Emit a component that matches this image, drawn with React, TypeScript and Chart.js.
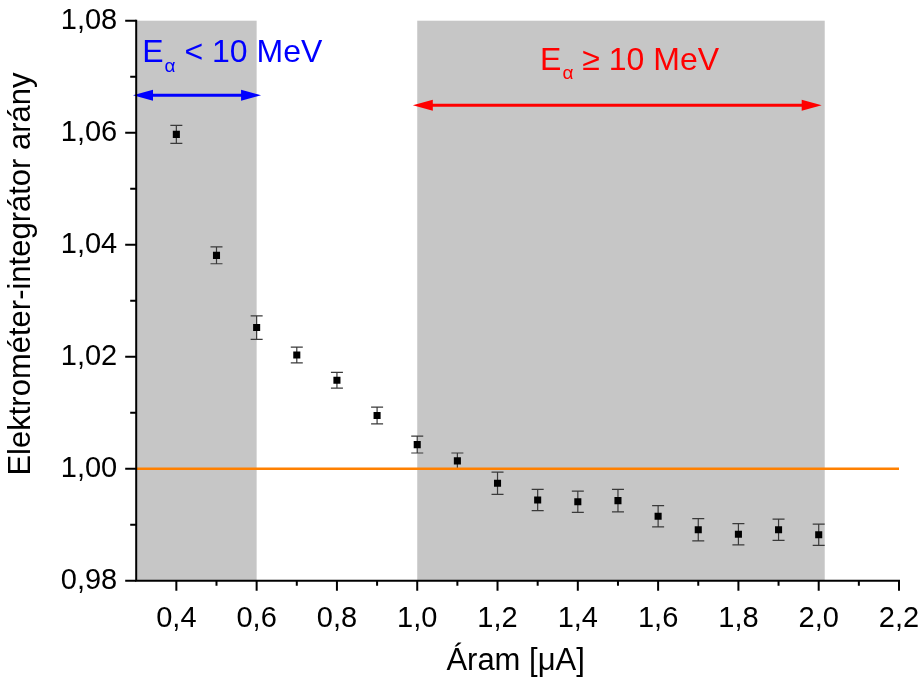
import React, { useEffect, useRef } from 'react';
import { Chart, registerables } from 'chart.js';

Chart.register(...registerables);

// ---- data ----
const currents = [0.4, 0.5, 0.6, 0.7, 0.8, 0.9, 1.0, 1.1, 1.2, 1.3, 1.4, 1.5, 1.6, 1.7, 1.8, 1.9, 2.0];
const ratios = [1.0597, 1.0381, 1.0252, 1.0203, 1.0158, 1.0095, 1.0043, 1.0014, 0.9974, 0.9944, 0.9941, 0.9943, 0.9915, 0.9891, 0.9883, 0.9891, 0.9882];
const ratioErrors = [0.0016, 0.0015, 0.0021, 0.0014, 0.0014, 0.0015, 0.0015, 0.0014, 0.002, 0.0019, 0.0019, 0.002, 0.0019, 0.002, 0.0019, 0.0019, 0.0019];
const xMajorTicks = [0.4, 0.6, 0.8, 1.0, 1.2, 1.4, 1.6, 1.8, 2.0, 2.2];
const xMinorTicks = [0.5, 0.7, 0.9, 1.1, 1.3, 1.5, 1.7, 1.9, 2.1];
const yMajorTicks = [0.98, 1.0, 1.02, 1.04, 1.06, 1.08];
const yMinorTicks = [0.99, 1.01, 1.03, 1.05, 1.07];
const referenceRatio = 1.0;
const lowRegion = [0.3, 0.6];
const highRegion = [1.0, 2.015];
const lowArrow = [0.292, 0.611, 1.0667];
const highArrow = [0.989, 2.0075, 1.0649];
const lowLabelAnchor = [0.315, 1.0726];
const highLabelAnchor = [1.306, 1.0712];
const xTitle = 'Áram [μA]';
const yTitle = 'Elektrométer-integrátor arány';

const FONT = '"Liberation Sans", Arial, sans-serif';

function drawArrow(ctx: CanvasRenderingContext2D, x1: number, x2: number, y: number, color: string) {
  const headLen = 20;
  const headHalf = 5.5;
  ctx.save();
  ctx.strokeStyle = color;
  ctx.fillStyle = color;
  ctx.lineWidth = 3;
  ctx.beginPath();
  ctx.moveTo(x1 + headLen - 2, y);
  ctx.lineTo(x2 - headLen + 2, y);
  ctx.stroke();
  ctx.beginPath();
  ctx.moveTo(x1, y);
  ctx.lineTo(x1 + headLen, y - headHalf);
  ctx.lineTo(x1 + headLen, y + headHalf);
  ctx.closePath();
  ctx.fill();
  ctx.beginPath();
  ctx.moveTo(x2, y);
  ctx.lineTo(x2 - headLen, y - headHalf);
  ctx.lineTo(x2 - headLen, y + headHalf);
  ctx.closePath();
  ctx.fill();
  ctx.restore();
}

function drawLabel(ctx: CanvasRenderingContext2D, x: number, y: number, rest: string, color: string) {
  ctx.save();
  ctx.fillStyle = color;
  ctx.textAlign = 'left';
  ctx.textBaseline = 'alphabetic';
  ctx.font = `32px ${FONT}`;
  ctx.fillText('E', x, y);
  let cx = x + ctx.measureText('E').width + 1;
  ctx.font = `19px ${FONT}`;
  ctx.fillText('α', cx, y + 9.5);
  cx += ctx.measureText('α').width;
  ctx.font = `32px ${FONT}`;
  ctx.fillText(rest, cx, y);
  ctx.restore();
}

const decorPlugin = {
  id: 'decor',
  beforeDatasetsDraw(chart: any) {
    const { ctx, chartArea, scales } = chart;
    const xs = scales.x;
    const ys = scales.y;
    ctx.save();
    ctx.fillStyle = '#c6c6c6';
    [lowRegion, highRegion].forEach(([a, b]) => {
      const l = xs.getPixelForValue(a);
      const r = xs.getPixelForValue(b);
      ctx.fillRect(l, chartArea.top, r - l, chartArea.bottom - chartArea.top);
    });
    // error bars
    ctx.strokeStyle = '#3a3a3a';
    ctx.lineWidth = 1.2;
    currents.forEach((c, i) => {
      const px = xs.getPixelForValue(c);
      const top = ys.getPixelForValue(ratios[i] + ratioErrors[i]);
      const bot = ys.getPixelForValue(ratios[i] - ratioErrors[i]);
      ctx.beginPath();
      ctx.moveTo(px, top);
      ctx.lineTo(px, bot);
      ctx.moveTo(px - 6, top);
      ctx.lineTo(px + 6, top);
      ctx.moveTo(px - 6, bot);
      ctx.lineTo(px + 6, bot);
      ctx.stroke();
    });
    ctx.restore();
  },
  afterDatasetsDraw(chart: any) {
    const { ctx, scales } = chart;
    const xs = scales.x;
    const ys = scales.y;
    drawArrow(ctx, xs.getPixelForValue(lowArrow[0]), xs.getPixelForValue(lowArrow[1]), ys.getPixelForValue(lowArrow[2]), '#0000ff');
    drawArrow(ctx, xs.getPixelForValue(highArrow[0]), xs.getPixelForValue(highArrow[1]), ys.getPixelForValue(highArrow[2]), '#ff0000');
    drawLabel(ctx, xs.getPixelForValue(lowLabelAnchor[0]), ys.getPixelForValue(lowLabelAnchor[1]), ' < 10 MeV', '#0000ff');
    drawLabel(ctx, xs.getPixelForValue(highLabelAnchor[0]), ys.getPixelForValue(highLabelAnchor[1]), ' ≥ 10 MeV', '#ff0000');
  },
  afterDraw(chart: any) {
    const { ctx, chartArea, scales } = chart;
    const xs = scales.x;
    const ys = scales.y;
    const { left, right, top, bottom } = chartArea;
    ctx.save();
    ctx.strokeStyle = '#000';
    ctx.lineWidth = 2;
    ctx.lineCap = 'square';
    ctx.beginPath();
    ctx.moveTo(left, top);
    ctx.lineTo(left, bottom);
    ctx.lineTo(right, bottom);
    ctx.stroke();
    ctx.lineCap = 'butt';
    ctx.beginPath();
    xMajorTicks.forEach((v) => {
      const p = xs.getPixelForValue(v);
      ctx.moveTo(p, bottom);
      ctx.lineTo(p, bottom + 10);
    });
    xMinorTicks.forEach((v) => {
      const p = xs.getPixelForValue(v);
      ctx.moveTo(p, bottom);
      ctx.lineTo(p, bottom + 5);
    });
    yMajorTicks.forEach((v) => {
      const p = ys.getPixelForValue(v);
      ctx.moveTo(left, p);
      ctx.lineTo(left - 11, p);
    });
    yMinorTicks.forEach((v) => {
      const p = ys.getPixelForValue(v);
      ctx.moveTo(left, p);
      ctx.lineTo(left - 6, p);
    });
    ctx.stroke();
    // axis titles
    ctx.fillStyle = '#000';
    ctx.font = `31px ${FONT}`;
    ctx.textAlign = 'center';
    ctx.textBaseline = 'alphabetic';
    ctx.fillText(xTitle, (left + right) / 2 - 2, 670);
    ctx.translate(30, 274);
    ctx.rotate(-Math.PI / 2);
    ctx.fillText(yTitle, 0, 0);
    ctx.restore();
  },
};

export default function App() {
  const canvasRef = useRef<HTMLCanvasElement | null>(null);

  useEffect(() => {
    document.body.style.margin = '0';
    const canvas = canvasRef.current;
    if (!canvas) return;
    const chart = new Chart(canvas, {
      type: 'line',
      data: {
        datasets: [
          {
            label: 'ratio',
            data: currents.map((c, i) => ({ x: c, y: ratios[i] })),
            showLine: false,
            pointStyle: 'rect',
            pointRadius: 5,
            pointBackgroundColor: '#000',
            pointBorderColor: '#000',
            pointBorderWidth: 0,
            order: 1,
          },
          {
            label: 'reference',
            data: [
              { x: 0.3, y: referenceRatio },
              { x: 2.2, y: referenceRatio },
            ],
            borderColor: '#ff8000',
            borderWidth: 2.5,
            pointRadius: 0,
            order: 2,
          },
        ],
      },
      options: {
        responsive: true,
        maintainAspectRatio: false,
        animation: false,
        layout: { padding: { top: 20.7, right: 25, left: 0, bottom: 0 } },
        plugins: { legend: { display: false }, tooltip: { enabled: false } },
        scales: {
          x: {
            type: 'linear',
            min: 0.3,
            max: 2.2,
            grid: { display: false, drawTicks: false },
            border: { display: false },
            ticks: {
              color: '#000',
              font: { family: FONT, size: 29 },
              padding: 21,
              autoSkip: false,
              maxRotation: 0,
              callback: (v: any) => Number(v).toFixed(1).replace('.', ','),
            },
            afterBuildTicks: (s: any) => {
              s.ticks = xMajorTicks.map((v) => ({ value: v }));
            },
            afterFit: (s: any) => {
              s.height = 103.3;
              s.paddingLeft = 0;
              s.paddingRight = 0;
              s.paddingTop = 0;
              s.paddingBottom = 0;
            },
          },
          y: {
            type: 'linear',
            min: 0.98,
            max: 1.08,
            grid: { display: false, drawTicks: false },
            border: { display: false },
            ticks: {
              color: '#000',
              font: { family: FONT, size: 29 },
              padding: 19,
              autoSkip: false,
              callback: (v: any) => Number(v).toFixed(2).replace('.', ','),
            },
            afterBuildTicks: (s: any) => {
              s.ticks = yMajorTicks.map((v) => ({ value: v }));
            },
            afterFit: (s: any) => {
              s.width = 136.2;
              s.paddingLeft = 0;
              s.paddingRight = 0;
              s.paddingTop = 0;
              s.paddingBottom = 0;
            },
          },
        },
      },
      plugins: [decorPlugin],
    });
    return () => chart.destroy();
  }, []);

  return (
    <div style={{ position: 'fixed', left: 0, top: 0, width: 924, height: 684, background: '#fff' }}>
      <canvas ref={canvasRef} />
    </div>
  );
}
